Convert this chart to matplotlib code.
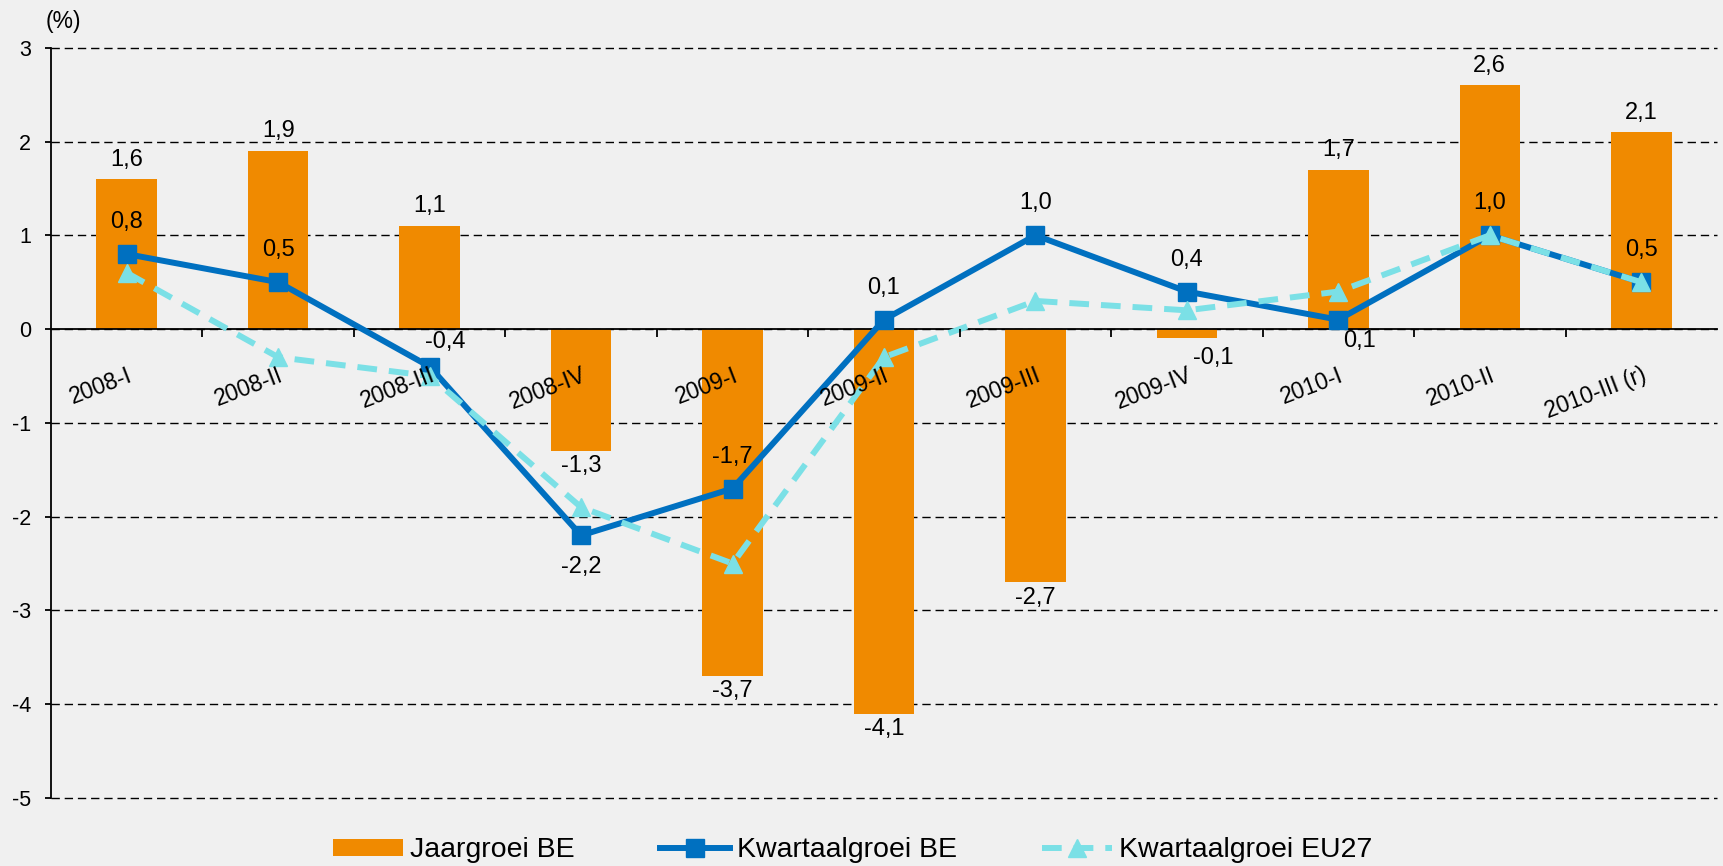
import matplotlib.pyplot as plt
import numpy as np
from matplotlib.lines import Line2D
from matplotlib.patches import Patch

quarters = ["2008-I", "2008-II", "2008-III", "2008-IV", "2009-I", "2009-II",
            "2009-III", "2009-IV", "2010-I", "2010-II", "2010-III (r)"]
jaargroei_be = [1.6, 1.9, 1.1, -1.3, -3.7, -4.1, -2.7, -0.1, 1.7, 2.6, 2.1]
kwartaal_be = [0.8, 0.5, -0.4, -2.2, -1.7, 0.1, 1.0, 0.4, 0.1, 1.0, 0.5]
kwartaal_eu27 = [0.6, -0.3, -0.5, -1.9, -2.5, -0.3, 0.3, 0.2, 0.4, 1.0, 0.5]

ORANGE = "#F08A00"
BLUE = "#0070C0"
CYAN = "#7BE0E6"
BG = "#F0F0F0"
EU_DASH = (0, (3.3, 2.0))


def fmt(v):
    return f"{v:.1f}".replace(".", ",")


plt.rcParams["font.family"] = ["Liberation Sans", "DejaVu Sans"]

fig = plt.figure(figsize=(17.23, 8.66), dpi=100, facecolor=BG)
ax = fig.add_axes([0.0296, 0.0785, 0.9669, 0.8664], facecolor=BG)

x = np.arange(len(quarters))
ax.bar(x, jaargroei_be, width=0.4, color=ORANGE, zorder=2)
ax.plot(x, kwartaal_be, color=BLUE, lw=4.3, marker="s", ms=13, zorder=3)
ax.plot(x, kwartaal_eu27, color=CYAN, lw=4.3, ls=EU_DASH, marker="^",
        ms=13, zorder=4)

ax.set_xlim(-0.5, len(quarters) - 0.5)
ax.set_ylim(-5, 3)
ax.set_yticks(range(-5, 4))
ax.set_yticklabels([str(v) for v in range(-5, 4)])
ax.yaxis.grid(True, color="black", ls=(0, (6, 3.5)), lw=1.0)
for gl in ax.get_ygridlines():
    gl.set_clip_on(False)
ax.set_axisbelow(True)

for s in ["top", "right"]:
    ax.spines[s].set_visible(False)
ax.spines["bottom"].set_position(("data", 0))
ax.spines["bottom"].set_zorder(2.5)
ax.spines["left"].set_linewidth(1.3)
ax.spines["bottom"].set_linewidth(1.3)
ax.xaxis.set_zorder(5)

ax.set_xticks(x)
ax.set_xticklabels(quarters, rotation=21, ha="right", va="top",
                   rotation_mode="anchor", fontsize=16.5)
ax.tick_params(axis="x", which="major", length=0, pad=25)
ax.set_xticks(np.arange(0.5, len(quarters) - 0.5, 1), minor=True)
ax.tick_params(axis="x", which="minor", length=6, width=1.3, direction="out")
ax.tick_params(axis="y", length=4.5, width=1.3, labelsize=15.5, pad=10)

# bar value labels
for i, v in enumerate(jaargroei_be):
    dx, dy = (0, 14) if v >= 0 else (0, -11)
    if quarters[i] == "2009-IV":
        dx, dy = 19, -14
    ax.annotate(fmt(v), (i, v), xytext=(dx, dy), textcoords="offset points",
                ha="center", va="center", fontsize=17, zorder=6)

# quarterly BE value labels
be_offsets = {2: (11.5, 18), 3: (0, -23), 8: (15, -15)}
for i, v in enumerate(kwartaal_be):
    dx, dy = be_offsets.get(i, (0, 23))
    ax.annotate(fmt(v), (i, v), xytext=(dx, dy), textcoords="offset points",
                ha="center", va="center", fontsize=17, zorder=6)

fig.text(0.0365, 0.975, "(%)", fontsize=16.5, ha="center", va="center")

handles = [
    Patch(facecolor=ORANGE, edgecolor="none"),
    Line2D([], [], color=BLUE, lw=4.3, marker="s", ms=13),
    Line2D([], [], color=CYAN, lw=4.3, ls=EU_DASH, marker="^", ms=13),
]
labels = ["Jaargroei BE", "Kwartaalgroei BE", "Kwartaalgroei EU27"]
fig.legend(handles, labels, loc="center", bbox_to_anchor=(0.495, 0.018),
           ncol=3, frameon=False, fontsize=20.5, handlelength=2.45,
           handleheight=0.55, columnspacing=3.0, handletextpad=0.25,
           borderpad=0)

fig.savefig("out.png", dpi=100, facecolor=BG)
